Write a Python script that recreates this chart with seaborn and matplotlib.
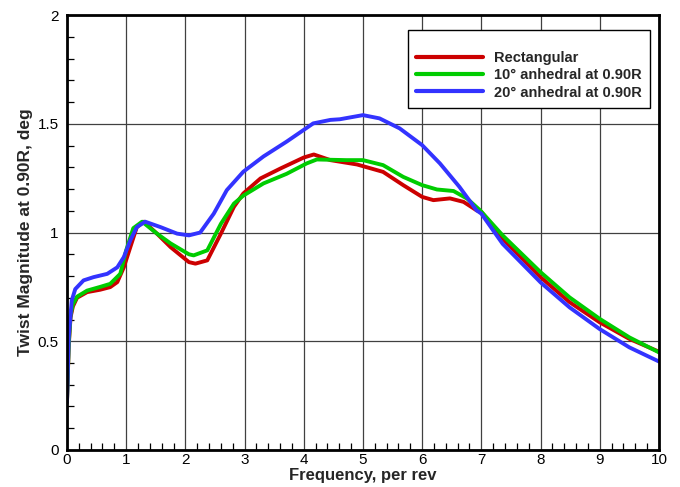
import pandas as pd
import matplotlib.pyplot as plt
import seaborn as sns
from matplotlib.ticker import MultipleLocator, FormatStrFormatter

sns.set_theme(style="white")
plt.rcParams['font.family'] = ['Liberation Sans', 'DejaVu Sans']

# --- data ---
rect_x = [0, 0.03, 0.06, 0.1, 0.17, 0.34, 0.56, 0.73, 0.85, 0.96, 1.07, 1.18, 1.3,
          1.52, 1.75, 2.06, 2.17, 2.37, 2.6, 2.82, 2.98, 3.27, 3.61, 4.0, 4.17,
          4.45, 4.9, 5.34, 5.68, 6.0, 6.19, 6.47, 6.7, 6.92, 7.0, 7.36, 8.0,
          8.49, 9.0, 9.5, 10.0]
rect_y = [0.22, 0.48, 0.61, 0.66, 0.70, 0.726, 0.737, 0.749, 0.772, 0.84, 0.933,
          1.025, 1.05, 0.995, 0.933, 0.864, 0.857, 0.872, 0.995, 1.118, 1.18,
          1.249, 1.295, 1.345, 1.359, 1.333, 1.313, 1.279, 1.218, 1.164, 1.149,
          1.157, 1.141, 1.102, 1.095, 0.972, 0.795, 0.68, 0.587, 0.511, 0.452]

an10_x = [0, 0.03, 0.06, 0.1, 0.17, 0.34, 0.56, 0.73, 0.9, 1.0, 1.12, 1.27, 1.52,
          1.75, 2.06, 2.14, 2.37, 2.6, 2.82, 2.98, 3.32, 3.71, 4.05, 4.22, 4.72,
          5.0, 5.34, 5.68, 6.0, 6.25, 6.53, 6.76, 6.98, 7.36, 8.0, 8.49, 9.0,
          9.5, 10.0]
an10_y = [0.22, 0.49, 0.62, 0.67, 0.705, 0.733, 0.75, 0.764, 0.81, 0.918, 1.02,
          1.05, 0.995, 0.95, 0.9, 0.895, 0.918, 1.04, 1.133, 1.17, 1.226, 1.27,
          1.318, 1.336, 1.333, 1.333, 1.31, 1.256, 1.218, 1.198, 1.191, 1.156,
          1.102, 0.987, 0.818, 0.702, 0.603, 0.518, 0.449]

an20_x = [0, 0.03, 0.08, 0.14, 0.28, 0.45, 0.68, 0.85, 0.96, 1.07, 1.18, 1.32,
          1.58, 1.86, 2.06, 2.25, 2.48, 2.7, 2.98, 3.32, 3.71, 4.16, 4.45, 4.61,
          5.0, 5.28, 5.62, 6.0, 6.3, 6.63, 6.92, 7.0, 7.36, 8.0, 8.49, 9.0,
          9.5, 10.0]
an20_y = [0.22, 0.52, 0.687, 0.74, 0.78, 0.795, 0.81, 0.84, 0.887, 0.964, 1.025,
          1.05, 1.025, 0.995, 0.987, 1.0, 1.087, 1.195, 1.28, 1.35, 1.418, 1.502,
          1.518, 1.521, 1.54, 1.525, 1.479, 1.402, 1.318, 1.21, 1.102, 1.087,
          0.948, 0.771, 0.656, 0.556, 0.472, 0.407]

labels = ['Rectangular', '10\u00b0 anhedral at 0.90R', '20\u00b0 anhedral at 0.90R']
colors = ['#cc0000', '#00cc00', '#3333ff']

df = pd.concat([
    pd.DataFrame({'freq': rect_x, 'twist': rect_y, 'case': labels[0]}),
    pd.DataFrame({'freq': an10_x, 'twist': an10_y, 'case': labels[1]}),
    pd.DataFrame({'freq': an20_x, 'twist': an20_y, 'case': labels[2]}),
], ignore_index=True)

fig = plt.figure(figsize=(6.8, 4.87), dpi=100)
ax = fig.add_axes([0.0985, 0.076, 0.8705, 0.893])

sns.lineplot(ax=ax, data=df, x='freq', y='twist', hue='case',
             palette=dict(zip(labels, colors)), sort=False, estimator=None,
             lw=2.8)

ax.set_xlim(0, 10)
ax.set_ylim(0, 2)
ax.xaxis.set_major_locator(MultipleLocator(1))
ax.xaxis.set_minor_locator(MultipleLocator(0.2))
ax.yaxis.set_major_locator(MultipleLocator(0.5))
ax.yaxis.set_minor_locator(MultipleLocator(0.1))
ax.yaxis.set_major_formatter(FormatStrFormatter('%g'))
ax.grid(True, which='major', color='0.25', lw=0.9)
ax.set_axisbelow(True)
ax.tick_params(which='both', direction='in', colors='black', labelsize=11,
               top=False, right=False, left=True, bottom=True)
ax.tick_params(which='major', length=0)
ax.tick_params(axis='y', which='major', pad=6)
ax.tick_params(axis='x', which='major', pad=2)
ax.tick_params(which='minor', length=5, width=0.9)
for s in ax.spines.values():
    s.set_color('black')
    s.set_linewidth(2)

ax.set_xlabel('Frequency, per rev', fontsize=12, fontweight='bold', labelpad=1)
ax.set_ylabel('Twist Magnitude at 0.90R, deg', fontsize=12.5, fontweight='bold',
              labelpad=3)

# blank title keeps the empty strip above the entries
leg = ax.legend(title=' ', loc='upper right', bbox_to_anchor=(0.985, 0.966),
                fancybox=False, framealpha=1, edgecolor='black',
                prop={'weight': 'bold', 'size': 10.5}, title_fontsize=7,
                handlelength=4.6, labelspacing=0.22, borderpad=0.55,
                handletextpad=0.75, borderaxespad=0)
leg.get_frame().set_linewidth(1)
for h in leg.get_lines():
    h.set_linewidth(3)

plt.savefig('out.png', dpi=100)
